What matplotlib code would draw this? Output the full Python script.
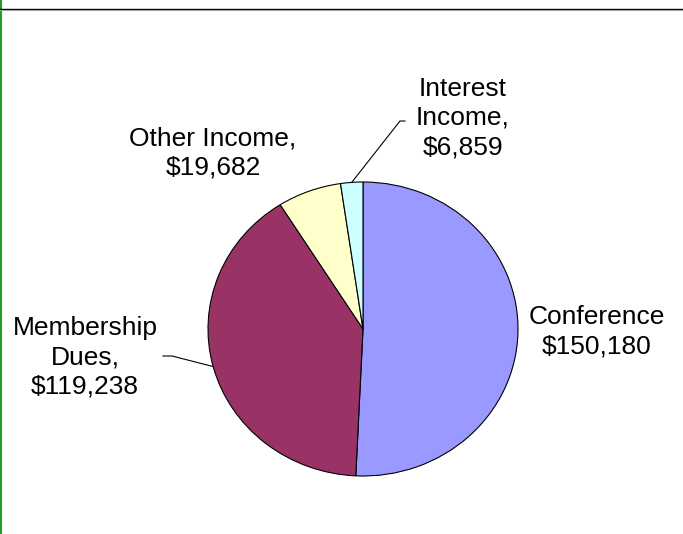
import numpy as np
import matplotlib.pyplot as plt
from matplotlib.lines import Line2D

# income sources
categories = ['Conference', 'Membership Dues', 'Other Income', 'Interest Income']
amounts = [150180, 119238, 19682, 6859]
label_texts = ['Conference\n$150,180', 'Membership\nDues,\n$119,238',
               'Other Income,\n$19,682', 'Interest\nIncome,\n$6,859']
colors = ['#9999FF', '#993366', '#FFFFCC', '#CCFFFF']

W, H = 683, 534
plt.rcParams['font.family'] = ['Liberation Sans', 'DejaVu Sans']

fig = plt.figure(figsize=(W / 100, H / 100), dpi=100)
fig.patch.set_facecolor('white')

# pie centre and radii in pixels (slightly wider than tall, like the original)
cx, cy, rx, ry = 363, 329, 155, 147
ax = fig.add_axes([(cx - rx) / W, (H - cy - ry) / H, 2 * rx / W, 2 * ry / H])
wedges, _ = ax.pie(amounts, colors=colors, startangle=90, counterclock=False,
                   wedgeprops=dict(edgecolor='black', linewidth=0.8))
ax.set_aspect('auto')
ax.set_xlim(-1, 1)
ax.set_ylim(-1, 1)
ax.axis('off')


def px(x, y):
    # pixel (from top-left) -> data coords of the pie axes
    return (x - cx) / rx, (cy - y) / ry


# label positions (pixel centres)
label_pos = [(597, 332), (85, 357), (213, 153), (463, 118)]
for txt, (x, y) in zip(label_texts, label_pos):
    fig.text(x / W, 1 - y / H, txt, ha='center', va='center', fontsize=19,
             linespacing=1.27, multialignment='center', color='black')

# leader lines for Membership and Interest
bends = {1: [(172, 356), (163, 356)], 3: [(400, 121), (405, 121)]}
for i, pts in bends.items():
    w = wedges[i]
    mid = np.deg2rad((w.theta1 + w.theta2) / 2)
    xs = [np.cos(mid)] + [px(*p)[0] for p in pts]
    ys = [np.sin(mid)] + [px(*p)[1] for p in pts]
    ax.plot(xs, ys, color='black', linewidth=0.8, clip_on=False)

# frame lines
fig.add_artist(Line2D([0.5 / W, 0.5 / W], [0, 1], color='#22A022', linewidth=1.5))
fig.add_artist(Line2D([0, 1], [1 - 8.5 / H, 1 - 8.5 / H], color='black', linewidth=1.0))
fig.add_artist(Line2D([0, 1], [1 - 10 / H, 1 - 10 / H], color='#A0A0A0', linewidth=0.8))

fig.savefig('out.png', dpi=100, facecolor='white')
